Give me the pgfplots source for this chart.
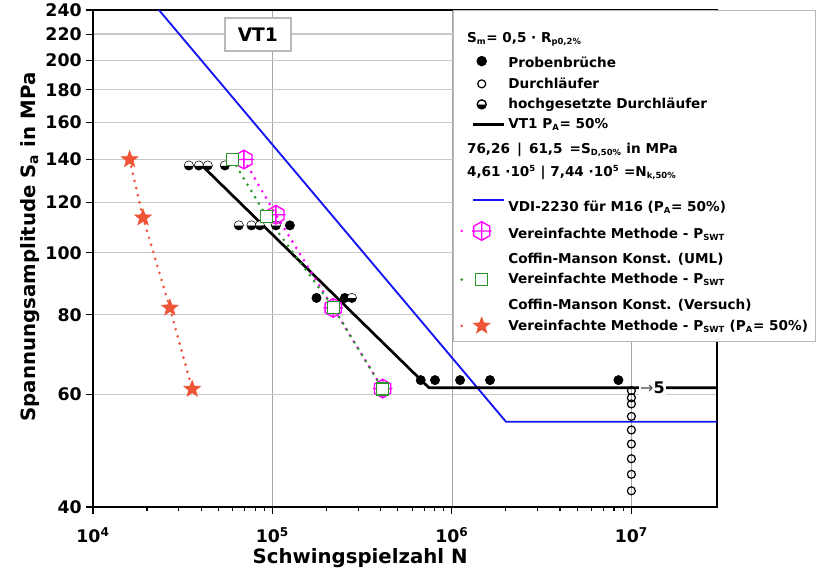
\documentclass[border=0pt]{standalone}
\usepackage{pgfplots}
\pgfplotsset{compat=1.18}
\usepackage{fontspec}
\setmainfont{DejaVu Sans}
\usetikzlibrary{plotmarks}

% hexagon with a cross, pointy top
\pgfdeclareplotmark{hexcross}{%
  \pgfpathmoveto{\pgfpointpolar{90}{\pgfplotmarksize}}%
  \pgfpathlineto{\pgfpointpolar{150}{\pgfplotmarksize}}%
  \pgfpathlineto{\pgfpointpolar{210}{\pgfplotmarksize}}%
  \pgfpathlineto{\pgfpointpolar{270}{\pgfplotmarksize}}%
  \pgfpathlineto{\pgfpointpolar{330}{\pgfplotmarksize}}%
  \pgfpathlineto{\pgfpointpolar{30}{\pgfplotmarksize}}%
  \pgfpathclose
  \pgfpathmoveto{\pgfqpoint{-\pgfplotmarksize}{0pt}}%
  \pgfpathlineto{\pgfqpoint{\pgfplotmarksize}{0pt}}%
  \pgfpathmoveto{\pgfqpoint{0pt}{-\pgfplotmarksize}}%
  \pgfpathlineto{\pgfqpoint{0pt}{\pgfplotmarksize}}%
  \pgfusepathqstroke
}
% filled five-pointed star
\pgfdeclareplotmark{star5}{%
  \pgfpathmoveto{\pgfpointpolar{90}{\pgfplotmarksize}}%
  \pgfpathlineto{\pgfpointpolar{126}{0.42\pgfplotmarksize}}%
  \pgfpathlineto{\pgfpointpolar{162}{\pgfplotmarksize}}%
  \pgfpathlineto{\pgfpointpolar{198}{0.42\pgfplotmarksize}}%
  \pgfpathlineto{\pgfpointpolar{234}{\pgfplotmarksize}}%
  \pgfpathlineto{\pgfpointpolar{270}{0.42\pgfplotmarksize}}%
  \pgfpathlineto{\pgfpointpolar{306}{\pgfplotmarksize}}%
  \pgfpathlineto{\pgfpointpolar{342}{0.42\pgfplotmarksize}}%
  \pgfpathlineto{\pgfpointpolar{18}{\pgfplotmarksize}}%
  \pgfpathlineto{\pgfpointpolar{54}{0.42\pgfplotmarksize}}%
  \pgfpathclose
  \pgfusepathqfillstroke
}

\definecolor{vdiblue}{RGB}{20,20,245}
\definecolor{umlpink}{RGB}{255,0,255}
\definecolor{versgreen}{RGB}{40,150,40}
\definecolor{starred}{RGB}{238,85,55}
\definecolor{gridgray}{RGB}{200,200,200}

% small subscripts / superscripts as in the original legend
\newcommand{\sub}[1]{\textsubscript{\fontsize{6.3}{7}\selectfont #1}}
\newcommand{\supr}[1]{\textsuperscript{\fontsize{6.3}{7}\selectfont #1}}
% extra height above a legend row
\newcommand{\hgt}[1]{\rule{0pt}{#1}}

\pgfplotsset{
  mk/.style={legend image code/.code={\draw[##1] plot coordinates {(17pt,0pt)};}},
  ln/.style={legend image code/.code={\draw[##1] (10.5pt,0pt) -- (34pt,0pt);}},
  dm/.style={legend image code/.code={%
    \draw[##1, mark=none] (2pt,0pt) -- (2.1pt,0pt);
    \draw[##1] plot coordinates {(17pt,0pt)};}},
  dots/.style={dash pattern=on 0pt off 5.5pt, line cap=round, line width=2.2pt},
}

\begin{document}
\begin{tikzpicture}
\begin{loglogaxis}[
  at={(0,0)}, anchor=south west,
  scale only axis, width=468pt, height=372.75pt,
  xmin=1e4, xmax=3e7, ymin=40, ymax=240,
  xtick={1e4,1e5,1e6,1e7},
  xticklabels={10\textsuperscript{4},10\textsuperscript{5},10\textsuperscript{6},10\textsuperscript{7}},
  ytick={40,60,80,100,120,140,160,180,200,220,240},
  yticklabels={40,60,80,100,120,140,160,180,200,220,240},
  yminorticks=false,
  tick pos=left, tick align=outside,
  major tick length=5pt, minor tick length=3pt,
  xmajorgrids, ymajorgrids,
  x grid style={gray!70, line width=0.5pt},
  y grid style={gridgray, line width=1pt},
  axis line style={line width=1.2pt},
  every tick/.style={black, line width=0.8pt},
  tick label style={font=\bfseries\fontsize{13}{15}\selectfont},
  xticklabel style={yshift=-7pt},
  label style={font=\bfseries\fontsize{14.8}{17}\selectfont},
  xlabel={Schwingspielzahl N},
  ylabel={Spannungsamplitude S\textsubscript{a} in MPa},
  xlabel style={at={(axis description cs:0.428,-0.103)}, anchor=center},
  ylabel style={at={(axis description cs:-0.101,0.523)}, anchor=center},
  legend cell align=left,
  legend style={at={(axis description cs:0.577,1)}, anchor=north west,
    draw=gray!55, line width=1pt, fill=white,
    font=\bfseries\fontsize{10.2}{12}\selectfont,
    row sep=2pt, inner ysep=5pt, inner xsep=4pt},
]
% VDI-2230 curve
\addplot[vdiblue, line width=1.4pt, forget plot] coordinates {
  (2.33e4,240) (2e6,54.4) (3e7,54.4)
};
% VT1 fitted curve P_A = 50%
\addplot[black, line width=2pt, forget plot] coordinates {
  (4.1e4,136.5) (7.44e5,61.5) (3e7,61.5)
};
% specimen failures
\addplot[only marks, mark=*, mark size=3.5pt, black, forget plot] coordinates {
  (1.25e5,110.4) (1.76e5,85) (2.53e5,85)
  (6.7e5,63.2) (8.05e5,63.2) (1.11e6,63.2) (1.63e6,63.2) (8.47e6,63.2)
};
% raised run-outs
\addplot[only marks, mark=halfcircle*, mark size=3.5pt, black, fill=black,
  mark options={rotate=180}, forget plot] coordinates {
  (3.42e4,137) (3.89e4,137) (4.36e4,137) (5.43e4,137)
  (6.49e4,110.4) (7.64e4,110.4) (8.51e4,110.4) (1.045e5,110.4) (2.77e5,85)
};
% run-outs
\addplot[only marks, mark=o, mark size=3pt, black, line width=0.9pt, fill=white, forget plot] coordinates {
  (1e7,60.85) (1e7,59.3) (1e7,58.0) (1e7,55.45) (1e7,52.8)
  (1e7,50.2) (1e7,47.6) (1e7,45.0) (1e7,42.4)
};
% simplified method P_SWT (P_A = 50%)
\addplot[starred, dots, mark=star5, mark size=6.5pt, mark options={solid, line width=0.5pt, draw=starred, fill=starred}, forget plot] coordinates {
  (1.60e4,140) (1.90e4,113.5) (2.68e4,82) (3.57e4,61.2)
};
% simplified method, UML constants
\addplot[umlpink, dots, mark=hexcross, mark size=7pt, mark options={solid, line width=1pt, draw=umlpink}, forget plot] coordinates {
  (6.93e4,140) (1.045e5,114.7) (2.18e5,82) (4.11e5,61.3)
};
% simplified method, test constants
\addplot[versgreen, dots, mark=square*, mark size=4.5pt, mark options={solid, line width=0.9pt, draw=versgreen, fill=white}, forget plot] coordinates {
  (5.99e4,140) (9.27e4,114) (2.18e5,82.2) (4.11e5,61.2)
};

\node[draw=gray!55, line width=1pt, fill=white, font=\bfseries\fontsize{14}{16}\selectfont,
  minimum width=49.5pt, minimum height=24.75pt] at (axis cs:8.29e4,219.6) {VT1};
\node[anchor=west, fill=white, inner sep=0.8pt, font=\bfseries\fontsize{12}{14}\selectfont]
  at (axis cs:1.1e7,61.5) {{\mdseries\color{gray!60!black}→}5};

% legend
\addlegendimage{empty legend}
\addlegendentry{\hgt{17pt}\hspace*{-31pt}S\sub{m}= 0,5 · R\sub{p0,2\%}}
\addlegendimage{mk, mark=*, mark size=3.4pt, black}
\addlegendentry{\hgt{11.2pt}Probenbrüche}
\addlegendimage{mk, mark=o, mark size=3pt, black, line width=0.9pt}
\addlegendentry{Durchläufer}
\addlegendimage{mk, mark=halfcircle*, mark size=3.4pt, black, fill=black, mark options={rotate=180}}
\addlegendentry{hochgesetzte Durchläufer}
\addlegendimage{ln, black, line width=2pt}
\addlegendentry{VT1 P\sub{A}= 50\%}
\addlegendimage{empty legend}
\addlegendentry{\hgt{11.2pt}\hspace*{-31pt}76,26 \,|\, 61,5 \,=S\sub{D,50\%} in MPa}
\addlegendimage{empty legend}
\addlegendentry{\hgt{9.7pt}\hspace*{-31pt}4,61 ·10\supr{5} | 7,44 ·10\supr{5} =N\sub{k,50\%}}
\addlegendimage{ln, vdiblue, line width=1.4pt}
\addlegendentry{\hgt{18.7pt}VDI-2230 für M16 (P\sub{A}= 50\%)}
\addlegendimage{dm, umlpink, dots, mark=hexcross, mark size=7pt, mark options={solid, line width=1pt, draw=umlpink}}
\addlegendentry{\hgt{12.7pt}Vereinfachte Methode - P\sub{SWT}}
\addlegendimage{empty legend}
\addlegendentry{\hgt{11.2pt}Coffin-Manson Konst. (UML)}
\addlegendimage{dm, versgreen, dots, mark=square*, mark size=4.5pt, mark options={solid, line width=0.9pt, draw=versgreen, fill=white}}
\addlegendentry{Vereinfachte Methode - P\sub{SWT}}
\addlegendimage{empty legend}
\addlegendentry{\hgt{12pt}Coffin-Manson Konst. (Versuch)}
\addlegendimage{dm, starred, dots, mark=star5, mark size=6.5pt, mark options={solid, line width=0.5pt, draw=starred, fill=starred}}
\addlegendentry{Vereinfachte Methode - P\sub{SWT} (P\sub{A}= 50\%)}
\end{loglogaxis}
\pgfresetboundingbox
\path[use as bounding box] (-69.75pt,-48pt) rectangle (542.25pt,380.25pt);
\end{tikzpicture}
\end{document}
